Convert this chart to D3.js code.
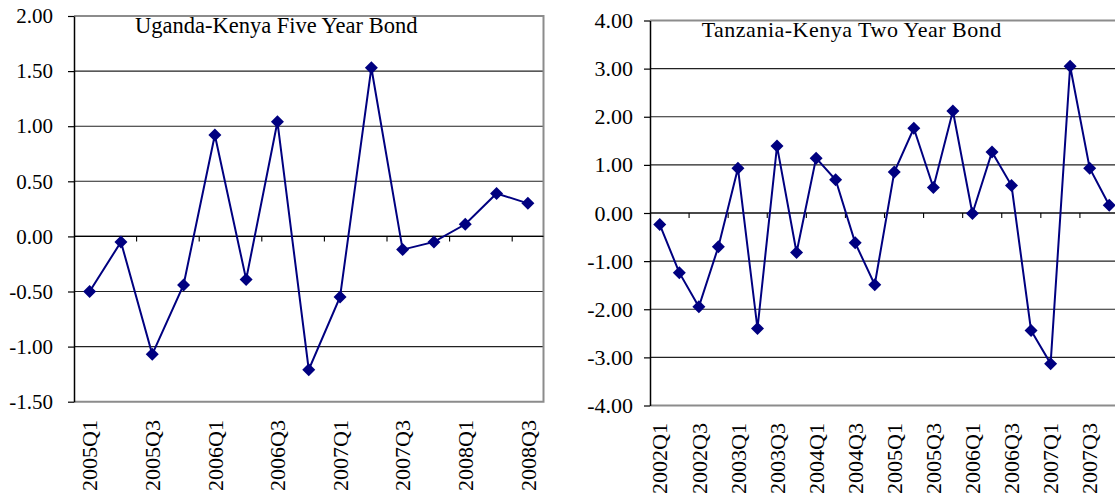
<!DOCTYPE html>
<html>
<head>
<meta charset="utf-8">
<script src="https://cdn.jsdelivr.net/npm/d3@7"></script>
<style>
  html, body { margin: 0; padding: 0; background: #fff; }
  svg { display: block; }
  text { font-family: "Liberation Serif", "Times New Roman", serif; fill: #000; }
</style>
</head>
<body>
<svg id="chart" width="1115" height="502" font-family="Liberation Serif, Times New Roman, serif"></svg>
<script>
// ---- Data ----
const ugCategories = ["2005Q1","2005Q2","2005Q3","2005Q4","2006Q1","2006Q2","2006Q3","2006Q4",
  "2007Q1","2007Q2","2007Q3","2007Q4","2008Q1","2008Q2","2008Q3"];
const ugValues = [-0.50, -0.05, -1.07, -0.44, 0.92, -0.39, 1.04, -1.21,
  -0.55, 1.53, -0.12, -0.05, 0.11, 0.39, 0.30];
const ugYTicks = [-1.5, -1.0, -0.5, 0.0, 0.5, 1.0, 1.5, 2.0];
const ugTitle = "Uganda-Kenya Five Year Bond";

const tzCategories = ["2002Q1","2002Q2","2002Q3","2002Q4","2003Q1","2003Q2","2003Q3","2003Q4",
  "2004Q1","2004Q2","2004Q3","2004Q4","2005Q1","2005Q2","2005Q3","2005Q4",
  "2006Q1","2006Q2","2006Q3","2006Q4","2007Q1","2007Q2","2007Q3","2007Q4"];
const tzValues = [-0.24, -1.24, -1.95, -0.70, 0.93, -2.40, 1.39, -0.82,
  1.14, 0.69, -0.62, -1.49, 0.85, 1.76, 0.53, 2.12,
  -0.01, 1.27, 0.57, -2.44, -3.13, 3.05, 0.93, 0.16];
const tzYTicks = [-4, -3, -2, -1, 0, 1, 2, 3, 4];
const tzTitle = "Tanzania-Kenya Two Year Bond";

const FONT = '"Liberation Serif", "Times New Roman", serif';
const svg = d3.select("#chart");
svg.append("rect").attr("width", 1115).attr("height", 502).attr("fill", "#fff");

function drawChart(cfg) {
  const g = svg.append("g");
  const x = d3.scaleBand().domain(cfg.categories).range([cfg.left, cfg.right]).padding(0);
  const y = d3.scaleLinear().domain([d3.min(cfg.yTicks), d3.max(cfg.yTicks)]).range([cfg.bottom, cfg.top]);
  const bw = x.bandwidth();

  // gridlines
  g.append("g").selectAll("line").data(cfg.yTicks.slice(1, -1)).join("line")
    .attr("x1", cfg.left).attr("x2", cfg.right)
    .attr("y1", d => y(d)).attr("y2", d => y(d))
    .attr("stroke", "#222").attr("stroke-width", 1.1);

  // plot border (top, right, bottom) gray
  g.append("path")
    .attr("d", `M${cfg.left},${cfg.top}H${cfg.right}V${cfg.bottom}H${cfg.left}`)
    .attr("fill", "none").attr("stroke", "#8c8c8c").attr("stroke-width", 2);

  // y axis
  const yAxis = d3.axisLeft(y).tickValues(cfg.yTicks)
    .tickFormat(d => d.toFixed(2)).tickSize(6).tickSizeOuter(0).tickPadding(cfg.tickPad);
  const ya = g.append("g").attr("transform", `translate(${cfg.left},0)`).call(yAxis)
    .attr("font-family", FONT).attr("font-size", cfg.yFont);
  ya.select(".domain").attr("stroke", "#000").attr("stroke-width", 1.5);
  ya.selectAll(".tick line").attr("stroke", "#000").attr("stroke-width", 1.2);
  ya.selectAll(".tick text")
    .style("font-family", FONT)
    .style("font-size", cfg.yFont + "px").attr("fill", "#000");

  // x axis ticks on zero line
  const tickIdx = cfg.categories.map((c, i) => i).filter(i => i > 0 && i % 2 === 0);
  g.append("g").selectAll("line").data(tickIdx).join("line")
    .attr("x1", i => x(cfg.categories[i])).attr("x2", i => x(cfg.categories[i]))
    .attr("y1", y(0)).attr("y2", y(0) + 5)
    .attr("stroke", "#000").attr("stroke-width", 1.1);
  g.append("line").attr("x1", cfg.left).attr("x2", cfg.right)
    .attr("y1", y(0)).attr("y2", y(0)).attr("stroke", "#000").attr("stroke-width", 1.2);

  // x labels (every other category)
  const labIdx = cfg.categories.map((c, i) => i).filter(i => i % 2 === 0);
  g.append("g").selectAll("text").data(labIdx).join("text")
    .attr("transform", i => `translate(${x(cfg.categories[i]) + bw / 2},${cfg.labelTop}) rotate(-90)`)
    .attr("text-anchor", "end").attr("dy", "0.35em")
    .style("font-family", FONT)
    .style("font-size", cfg.xFont + "px")
    .text(i => cfg.categories[i]);

  // line
  const line = d3.line().x((d, i) => x(cfg.categories[i]) + bw / 2).y(d => y(d));
  g.append("path").datum(cfg.values).attr("d", line)
    .attr("fill", "none").attr("stroke", "#000080").attr("stroke-width", 2).attr("stroke-linejoin", "miter");

  // diamonds
  const s = 6.5;
  g.append("g").selectAll("path").data(cfg.values).join("path")
    .attr("transform", (d, i) => `translate(${x(cfg.categories[i]) + bw / 2},${y(d)})`)
    .attr("d", `M0,${-s}L${s},0L0,${s}L${-s},0Z`)
    .attr("fill", "#000080");

  // title
  g.append("text").attr("x", cfg.titleX).attr("y", cfg.titleY)
    .style("font-family", FONT)
    .style("font-size", cfg.titleFont + "px")
    .style("letter-spacing", cfg.titleSpacing + "px")
    .text(cfg.title);
}

drawChart({
  categories: ugCategories, values: ugValues, yTicks: ugYTicks, title: ugTitle,
  left: 74, right: 543.5, top: 16, bottom: 401.7,
  tickPad: 15, yFont: 21, xFont: 22, labelTop: 420,
  titleX: 135, titleY: 33, titleFont: 22.5, titleSpacing: 0
});

drawChart({
  categories: tzCategories, values: tzValues, yTicks: tzYTicks, title: tzTitle,
  left: 650, right: 1119, top: 20.5, bottom: 405.5,
  tickPad: 11, yFont: 22, xFont: 22, labelTop: 423,
  titleX: 701.7, titleY: 37, titleFont: 22, titleSpacing: 0.5
});
</script>
</body>
</html>
